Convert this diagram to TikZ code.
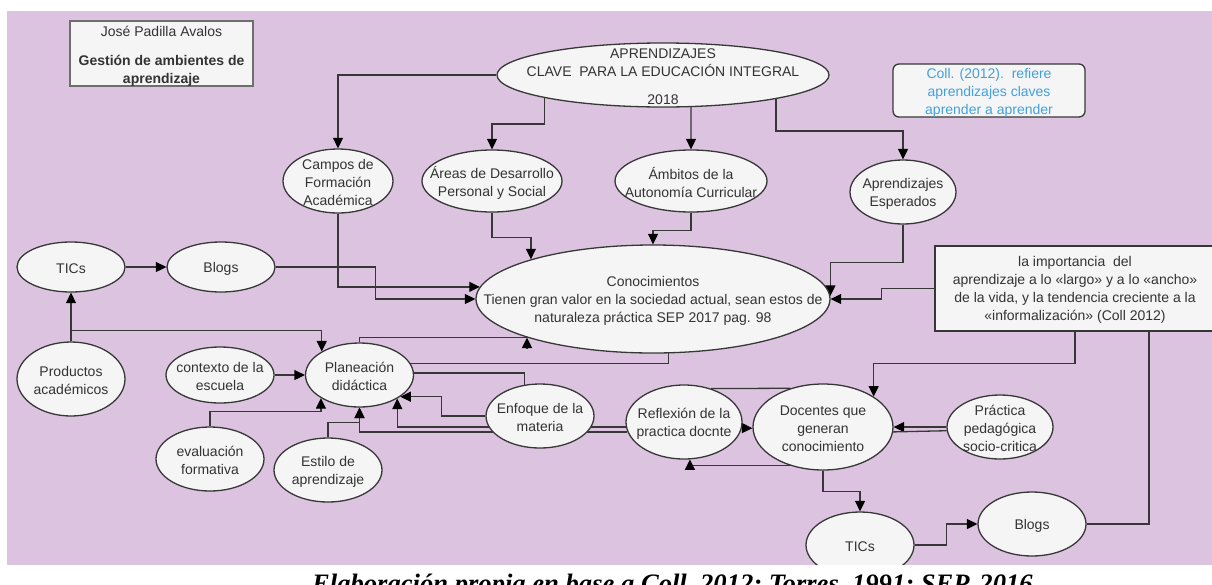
\documentclass[tikz,border=0pt]{standalone}
\usepackage{fontspec}
\setmainfont{Liberation Sans}
\newfontfamily\capfont{Liberation Serif}
\usetikzlibrary{arrows.meta,shapes.geometric,calc}
\definecolor{bgpurple}{RGB}{220,196,224}
\definecolor{nodefill}{RGB}{245,245,245}
\definecolor{edgecol}{RGB}{55,55,55}
\definecolor{txtcol}{RGB}{51,51,51}
\definecolor{bluetxt}{RGB}{66,160,220}
\definecolor{boxline}{RGB}{110,110,110}
\pgfdeclarelayer{bglayer}
\pgfdeclarelayer{edgelayer}
\pgfsetlayers{bglayer,edgelayer,main}
\newcommand\ellnode[6]{%
  \node[ell, minimum width=#4pt, minimum height=#5pt] (#1) at (#2,#3) {};
  \node[lbl] (#1-t) at ([yshift=-1.5pt]#1.center) {#6};}
\begin{document}
\begin{tikzpicture}[x=1pt,y=-1pt,
  ell/.style={ellipse, draw=edgecol, line width=1.3pt, fill=nodefill, inner sep=0pt},
  lbl/.style={align=center, text=txtcol, font=\fontsize{14}{18}\selectfont, inner sep=0pt},
  wire/.style={draw=edgecol, line width=1.3pt},
  wirearr/.style={wire, -{Triangle[length=10.5pt,width=10pt,color=black]}},
]
\useasboundingbox (0,0) rectangle (1212,584);
\begin{pgfonlayer}{bglayer}
  \fill[bgpurple] (7,11) rectangle (1212,565);
\end{pgfonlayer}

% boxes
\node[draw=boxline, line width=2pt, fill=nodefill, minimum width=183pt, minimum height=65pt, inner sep=0pt] (title) at (161.5,53.5) {};
\node[lbl] (title-t) at ([yshift=-3pt]title.center) {José Padilla Avalos\\[11pt]\textbf{Gestión de ambientes de}\\\textbf{aprendizaje}};
\node[draw=edgecol, line width=1.3pt, fill=nodefill, rounded corners=6pt, minimum width=192pt, minimum height=53pt, inner sep=0pt] (coll) at (989,90.5) {};
\node[lbl, text=bluetxt] (coll-t) at ([yshift=-2pt]coll.center) {Coll. (2012).\ \ refiere\\aprendizajes claves\\aprender a aprender};
\node[draw=edgecol, line width=1.3pt, fill=nodefill, minimum width=280pt, minimum height=85pt, inner sep=0pt] (imp) at (1075,288.5) {};
\node[lbl] (imp-t) at ([yshift=-1.5pt]imp.center) {la importancia\ \ del\\aprendizaje a lo «largo» y a lo «ancho»\\de la vida, y la tendencia creciente a la\\«informalización» (Coll 2012)};

% ellipses
\ellnode{apr}{663}{75}{332}{64}{APRENDIZAJES\\CLAVE\ \ PARA LA EDUCACIÓN INTEGRAL\\[10pt]2018}
\ellnode{campos}{338}{181}{110}{64}{Campos de\\Formación\\Académica}
\ellnode{areas}{492}{181}{140}{62}{Áreas de Desarrollo\\Personal y Social}
\ellnode{ambitos}{691}{181}{152}{62}{Ámbitos de la\\Autonomía Curricular}
\ellnode{esper}{903}{192}{106}{64}{Aprendizajes\\Esperados}
\ellnode{conoc}{653}{299}{354}{108}{Conocimientos\\Tienen gran valor en la sociedad actual, sean estos de\\naturaleza práctica SEP 2017 pag. 98}
\ellnode{tic1}{71}{267}{108}{50}{TICs}
\ellnode{blog1}{221}{267}{108}{50}{Blogs}
\ellnode{prod}{71}{379}{108}{74}{Productos\\académicos}
\ellnode{ctx}{220}{375}{108}{56}{contexto de la\\escuela}
\ellnode{plan}{359.5}{375}{108}{64}{Planeación\\didáctica}
\ellnode{eval}{210}{459}{108}{64}{evaluación\\formativa}
\ellnode{estilo}{328}{470}{108}{64}{Estilo de\\aprendizaje}
\ellnode{enf}{540}{416}{108}{64}{Enfoque de la\\materia}
\ellnode{ref}{684}{422}{116}{74}{Reflexión de la\\practica docnte}
\ellnode{doc}{823}{427}{140}{86}{Docentes que\\generan\\conocimiento}
\ellnode{prac}{1000}{427}{106}{64}{Práctica\\pedagógica\\socio-critica}
\ellnode{tic2}{860}{545}{108}{66}{TICs}
\ellnode{blog2}{1032}{524}{108}{64}{Blogs}

% connectors
\begin{pgfonlayer}{edgelayer}
\draw[wirearr] (apr.west) -| (campos.north);
\draw[wirearr] (apr.191.17) -- ++(0,26) -| (areas.north);
\draw[wirearr] (apr.311.6) -- (ambitos.north);
\draw[wirearr] (apr.348.83) -- ++(0,32) -| (esper.north);
\draw[wirearr] (campos.south) |- (conoc.176.37);
\draw[wirearr] (areas.south) -- ++(0,25) -| (conoc.162.75);
\draw[wirearr] (ambitos.south) -- ++(0,18) -| (conoc.north);
\draw[wirearr] (esper.south) -- ++(0,38) -| (conoc.1.86);
\draw[wirearr] (blog1.east) -- ++(100,0) |- (conoc.west);
\draw[wirearr] (tic1) -- (blog1);
\draw[wirearr] (prod) -- (tic1);
\draw[wirearr] (prod.north) -- ++(0,-11) -| (plan.148.5);
\draw[wirearr] (ctx) -- (plan);
\draw[wirearr] (eval.north) -- ++(0,-15) -| (plan.211.5);
\draw[wirearr] (estilo.north) -- ++(0,-15) -| (plan.south);
\draw[wirearr] (ref.185) -| (plan.328.5);
\draw[wirearr] (ref.190.2) -| (plan.south);
\draw[wirearr] (enf.west) -- ++(-44,0) |- (plan.332.7);
\draw[wire] (enf.116) |- (plan.2.1);
\draw[wire] (plan.north) |- (conoc.197.25);
\draw[wirearr] ($(conoc.197.25)+(0,10)$) -- (conoc.197.25);
\draw[wire] (plan.13.5) -| (conoc.286.6);
\draw[wirearr] (imp.west) -- ++(-53,0) |- (conoc.east);
\draw[wirearr] (imp.south) -- ++(0,32) -| (doc.31.05);
\draw[wire] (blog2.east) -| ([xshift=74pt]imp.south);
\draw[wirearr] (tic2.east) -- ++(32,0) |- (blog2.west);
\draw[wirearr] (doc.south) -- ++(0,21) -| (tic2.north);
\draw[wirearr] (prac.west) -- (doc.east);
\draw[wire] (prac.184.3) -- (doc.356.7);
\draw[wirearr] (ref.354) -- (doc.181);
\draw[wire] (ref.51.5) -- (doc.130.8);
\draw[wirearr] (doc.229.2) -| (ref.279.3);
\end{pgfonlayer}

% white strip below diagram and caption
\fill[white] (0,565) rectangle (1212,584);
\node[font=\capfont\bfseries\itshape\fontsize{26.6}{30}\selectfont, anchor=base west, inner sep=0pt] (caption) at (312,592) {Elaboración propia en base a Coll, 2012; Torres, 1991; SEP, 2016};
\end{tikzpicture}
\end{document}
